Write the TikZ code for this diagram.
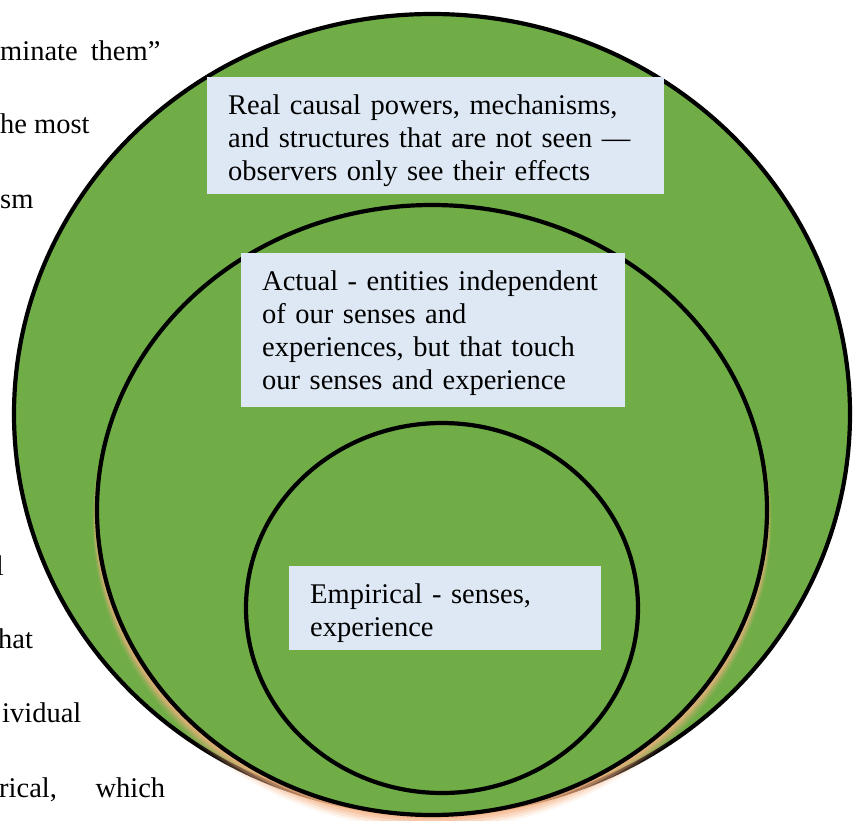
\documentclass[tikz,border=0pt]{standalone}
\usepackage{fontspec}
\setmainfont{Liberation Serif}
\usepackage{xcolor}
\usepackage{tikz}
\usetikzlibrary{positioning}

\definecolor{layergreen}{HTML}{70AD47}
\definecolor{panelblue}{HTML}{DDE8F4}
\definecolor{glow}{HTML}{F4B183}

\begin{document}
\begin{tikzpicture}[
    x=1pt, y=-1pt,
    font=\fontsize{28.5}{33}\selectfont,
    layer/.style={fill=layergreen, draw=black, line width=4.2pt},
    panel/.style={rectangle, fill=panelblue, anchor=north west, align=left, inner xsep=21pt, inner ysep=0pt, text height=37pt},
    pagetext/.style={inner sep=0pt, anchor=base west}
]
    \useasboundingbox (0,0) rectangle (861,820);

    % Page text behind the figure
    \node[pagetext] (p1) at (0,60) {minate\hspace{13pt}them''};
    \node[pagetext] (p2) at (0,133) {he most};
    \node[pagetext] (p3) at (0,208) {sm};
    \node[pagetext, anchor=base east] (p4) at (4,575) {l};
    \node[pagetext] (p5) at (-2,648) {hat};
    \node[pagetext] (p6) at (2,722) {ividual};
    \node[pagetext] (p7) at (-1,797) {\makebox[166pt][l]{rical,\hfill which}};

    % Real
    \draw[layer] (432,414) ellipse [x radius=418pt, y radius=400pt];

    % Glow under the actual layer
    \foreach \s/\o in {11/0.12,9/0.2,7/0.3,5/0.4,3/0.55}
        \fill[glow, opacity=\o] (432,510+\s) ellipse [x radius=335pt+\s pt*0.4, y radius=305pt+\s pt*0.3];

    % Actual
    \draw[layer] (432,510) ellipse [x radius=335pt, y radius=305pt];

    % Empirical
    \draw[layer] (442,608) ellipse [x radius=196pt, y radius=185pt];

    % Labels
    \node[panel, text width=415pt, text depth=80pt] (real) at (207,77)
        {Real causal powers, mechanisms,\\and structures that are not seen ---\\observers only see their effects};
    \node[panel, text width=342pt, text depth=117pt] (actual) at (241,253)
        {Actual - entities independent\\of our senses and\\experiences, but that touch\\our senses and experience};
    \node[panel, text width=270pt, text depth=47pt] (empirical) at (289,566)
        {Empirical - senses,\\experience};

\end{tikzpicture}
\end{document}
